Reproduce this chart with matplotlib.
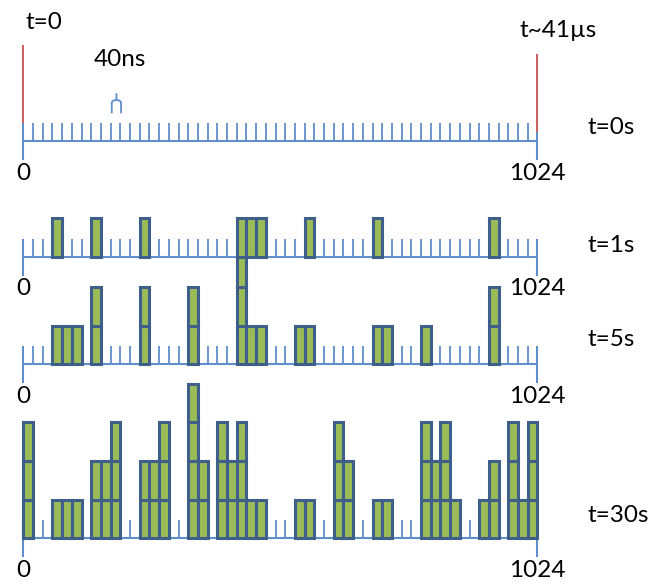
import matplotlib
matplotlib.use("Agg")
import matplotlib.pyplot as plt
from matplotlib.path import Path
from matplotlib.patches import PathPatch

# histogram of arrival times: 1024 channels grouped into 53 display bins
N_BINS = 53
panel_labels = ["t=0s", "t=1s", "t=5s", "t=30s"]

bins_0s = []
counts_0s = []

bins_1s = [3, 7, 12, 22, 23, 24, 29, 36, 48]
counts_1s = [1, 1, 1, 1, 1, 1, 1, 1, 1]

bins_5s = [3, 4, 5, 7, 12, 17, 22, 23, 24, 28, 29, 36, 37, 41, 48]
counts_5s = [1, 1, 1, 2, 2, 2, 3, 1, 1, 1, 1, 1, 1, 1, 2]

bins_30s = [0, 3, 4, 5, 7, 8, 9, 12, 13, 14, 17, 18, 20, 21, 22, 23, 24,
            28, 29, 32, 33, 36, 37, 41, 42, 43, 44, 47, 48, 50, 51, 52]
counts_30s = [3, 1, 1, 1, 2, 2, 3, 2, 2, 3, 4, 2, 3, 2, 3, 1, 1,
              1, 1, 3, 2, 1, 1, 3, 2, 3, 1, 1, 2, 3, 1, 3]

axis_start_label = "0"
axis_end_label = "1024"

# colours
tick_blue = "#5F8FCC"
edge_blue = "#3E5F8A"
fill_green = "#9BBB59"
marker_red = "#CC5C5C"

W, H = 652, 584
X0, X1 = 23.3, 537.4       # pixel extent of the channel axis
UNIT = 38.6                # pixel height of one count
baselines = [141, 256.7, 364.3, 538.3]

fig = plt.figure(figsize=(W / 100, H / 100), dpi=100)
fig.patch.set_facecolor("white")

FONT = ["Lato", "DejaVu Sans"]
FS = 17.5


def panel_axes(base_px, z):
    lo, hi = -1.5, 4.5
    bottom = (H - (base_px - lo * UNIT)) / H
    ax = fig.add_axes([X0 / W, bottom, (X1 - X0) / W, (hi - lo) * UNIT / H])
    ax.set_xlim(0, N_BINS)
    ax.set_ylim(lo, hi)
    ax.axis("off")
    ax.set_zorder(z)
    ax.patch.set_alpha(0)
    return ax


def draw_panel(ax, bins, counts, right_top=0.47):
    tick_h = 0.47
    ax.vlines(range(1, N_BINS), 0, tick_h, color=tick_blue, lw=1.3, clip_on=False)
    ax.hlines(0, 0, N_BINS, color=tick_blue, lw=1.5, clip_on=False)
    ax.vlines(0, -0.49, tick_h, color=tick_blue, lw=1.5, clip_on=False)
    ax.vlines(N_BINS, -0.49, right_top, color=tick_blue, lw=1.5, clip_on=False)
    # stacked unit tiles, one per count
    top = max(counts) if counts else 0
    for level in range(top):
        xs = [b for b, c in zip(bins, counts) if c > level]
        ax.bar(xs, 1, bottom=level, width=1, align="edge", color=fill_green,
               edgecolor=edge_blue, linewidth=2.2, zorder=3, clip_on=False)
    ax.text(0, -0.83, axis_start_label, ha="center", va="center",
            fontsize=FS, family=FONT)
    ax.text(N_BINS, -0.83, axis_end_label, ha="center", va="center",
            fontsize=FS, family=FONT)
    return ax


all_bins = [bins_0s, bins_1s, bins_5s, bins_30s]
all_counts = [counts_0s, counts_1s, counts_5s, counts_30s]
label_y = [0.34, 0.30, 0.63, 0.58]
axes = []
for i, base in enumerate(baselines):
    ax = panel_axes(base, 10 - i)
    draw_panel(ax, all_bins[i], all_counts[i],
               right_top=0.24 if i == 0 else 0.47)
    ax.text(58.2, label_y[i], panel_labels[i], ha="left", va="center",
            fontsize=FS, family=FONT)
    axes.append(ax)

# top panel: time markers and bin-width bracket
ax0 = axes[0]
ax0.vlines(0, 0.47, 2.49, color=marker_red, lw=1.4, clip_on=False)
ax0.vlines(N_BINS, 0.24, 2.25, color=marker_red, lw=1.4, clip_on=False)
ax0.text(2.1, 3.08, "t=0", ha="center", va="center", fontsize=FS, family=FONT)
ax0.text(55.1, 2.85, "t~41µs", ha="center", va="center", fontsize=FS, family=FONT)

bracket_bin = 9
bl, br = bracket_bin + 0.12, bracket_bin + 1.08
bm = (bl + br) / 2
verts = [(bl, 0.72), (bl, 0.98), (bl, 1.06), (bm, 1.06), (bm, 1.24),
         (bm, 1.06), (br, 1.06), (br, 0.98), (br, 0.72)]
codes = [Path.MOVETO, Path.LINETO, Path.CURVE3, Path.CURVE3, Path.LINETO,
         Path.MOVETO, Path.CURVE3, Path.CURVE3, Path.LINETO]
ax0.add_patch(PathPatch(Path(verts, codes), fill=False, edgecolor=tick_blue,
                        lw=1.3, clip_on=False))
ax0.text(bm + 0.4, 2.12, "40ns", ha="center", va="center", fontsize=FS, family=FONT)

fig.savefig("out.png", dpi=100, facecolor="white")
